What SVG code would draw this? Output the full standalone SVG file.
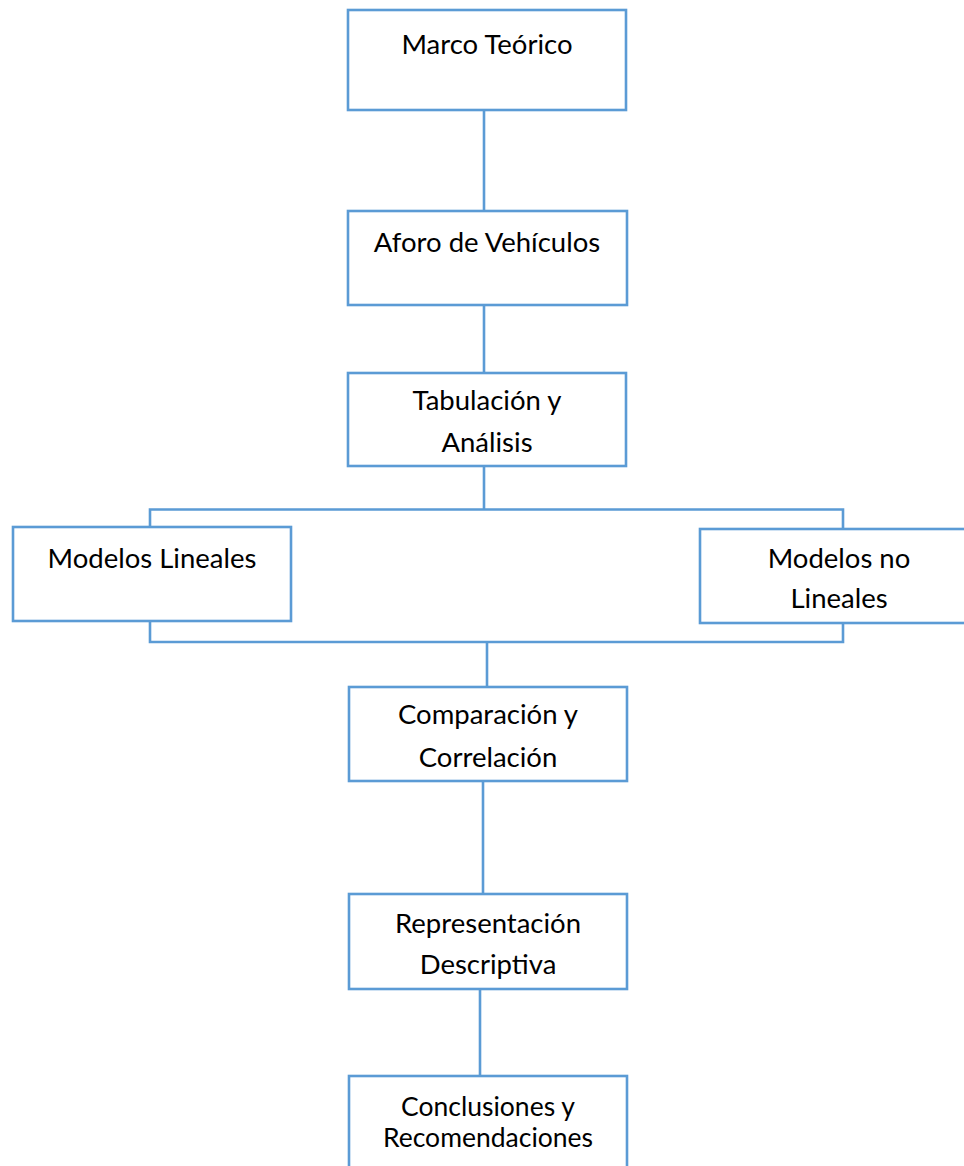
<svg xmlns="http://www.w3.org/2000/svg" width="964" height="1166" viewBox="0 0 964 1166">
<style>
.box{fill:#ffffff;stroke:#5B9BD5;stroke-width:2.6}
.con{fill:none;stroke:#5B9BD5;stroke-width:2.6}
text{font-family:Lato,"Open Sans","Liberation Sans",sans-serif;font-size:27.5px;fill:#000000;text-anchor:middle}
.sm{font-size:26.5px}
</style>
<rect width="964" height="1166" fill="#ffffff"/>
<g id="connectors">
<line class="con" x1="484" y1="110" x2="484" y2="211"/>
<line class="con" x1="484" y1="305" x2="484" y2="373"/>
<line class="con" x1="484" y1="466" x2="484" y2="509.5"/>
<polyline class="con" points="150,527 150,509.5 843,509.5 843,529"/>
<polyline class="con" points="150,621 150,642 843,642 843,623"/>
<line class="con" x1="487" y1="642" x2="487" y2="687"/>
<line class="con" x1="483" y1="781" x2="483" y2="894"/>
<line class="con" x1="480" y1="989" x2="480" y2="1076"/>
</g>
<g id="n1">
<rect class="box" x="348" y="10" width="278" height="100"/>
<text x="487" y="54">Marco Teórico</text>
</g>
<g id="n2">
<rect class="box" x="348" y="211" width="279" height="94"/>
<text x="487" y="252">Aforo de Vehículos</text>
</g>
<g id="n3">
<rect class="box" x="348" y="373" width="278" height="93"/>
<text x="487" y="410">Tabulación y</text>
<text x="487" y="452">Análisis</text>
</g>
<g id="n4">
<rect class="box" x="13" y="527" width="278" height="94"/>
<text x="152" y="567.5">Modelos Lineales</text>
</g>
<g id="n5">
<rect class="box" x="700" y="529" width="278" height="94"/>
<text x="839" y="567.5">Modelos no</text>
<text x="839" y="608">Lineales</text>
</g>
<g id="n6">
<rect class="box" x="349" y="687" width="278" height="94"/>
<text x="488" y="724">Comparación y</text>
<text x="488" y="766.5">Correlación</text>
</g>
<g id="n7">
<rect class="box" x="349" y="894" width="278" height="95"/>
<text x="488" y="933">Representación</text>
<text x="488" y="974">Descriptiva</text>
</g>
<g id="n8">
<rect class="box" x="349" y="1076" width="278" height="100"/>
<text class="sm" x="488" y="1116">Conclusiones y</text>
<text class="sm" x="488" y="1146.5">Recomendaciones</text>
</g>
</svg>
